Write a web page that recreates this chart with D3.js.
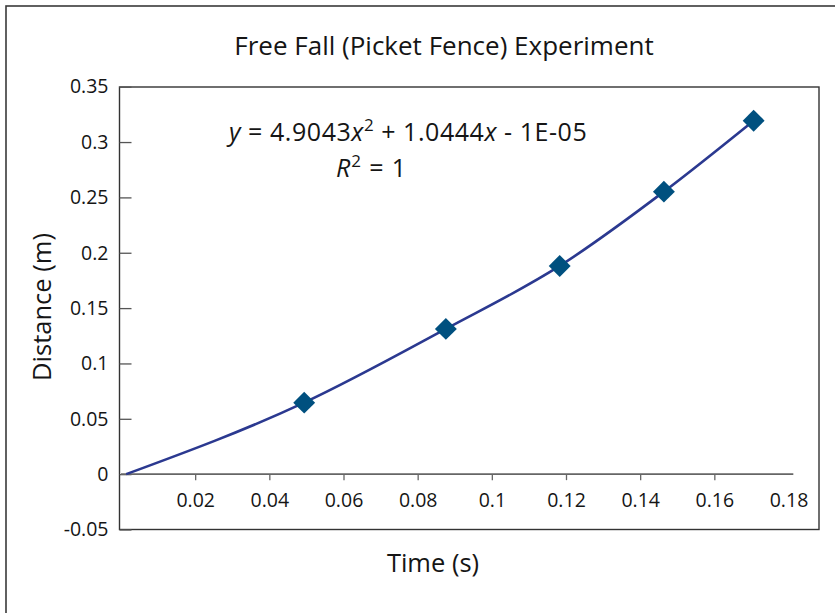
<!DOCTYPE html>
<html>
<head>
<meta charset="utf-8">
<script src="https://cdn.jsdelivr.net/npm/d3@7"></script>
<style>
  html, body { margin: 0; padding: 0; background: #fff; }
  svg { display: block; }
  text { font-family: "Open Sans", "Noto Sans", sans-serif; fill: #151515; }
</style>
</head>
<body>
<div id="chart"></div>
<script>
// ---- data ----
const timeS = [0.0494, 0.0876, 0.1183, 0.1464, 0.1706];
const distanceM = [0.0646, 0.1312, 0.1881, 0.2552, 0.3193];
const lineStart = [0.0014, 0];           // where the fitted curve begins
const xTickValues = [0.02, 0.04, 0.06, 0.08, 0.10, 0.12, 0.14, 0.16, 0.18];
const yTickValues = [-0.05, 0, 0.05, 0.10, 0.15, 0.20, 0.25, 0.30, 0.35];
const chartTitle = "Free Fall (Picket Fence) Experiment";
const xTitle = "Time (s)";
const yTitle = "Distance (m)";

const W = 835, H = 613;
const svg = d3.select("#chart").append("svg").attr("width", W).attr("height", H);
const fmt = d => String(+d.toFixed(2));   // plain hyphen minus

// outer border
svg.append("rect").attr("x", 6).attr("y", 6).attr("width", W + 10).attr("height", H + 10)
  .attr("fill", "none").attr("stroke", "#3a3a3a").attr("stroke-width", 1.6);

const frame = { left: 119.5, top: 87, right: 819, bottom: 529.5 };
const x = d3.scaleLinear().domain([0, 0.18]).range([121, 788.5]);
const y = d3.scaleLinear().domain([-0.05, 0.35]).range([529.5, 86.7]);

// plot frame
svg.append("rect").attr("x", frame.left).attr("y", frame.top)
  .attr("width", frame.right - frame.left).attr("height", frame.bottom - frame.top)
  .attr("fill", "none").attr("stroke", "#333").attr("stroke-width", 1.4);

// y axis (ticks inward)
const yAxis = d3.axisLeft(y).tickValues(yTickValues).tickSize(-12).tickPadding(11).tickFormat(fmt);
const gy = svg.append("g").attr("transform", `translate(${frame.left},0)`).call(yAxis);
gy.select(".domain").remove();
gy.selectAll(".tick line").attr("stroke", "#555").attr("stroke-width", 1.3);
gy.selectAll(".tick text").attr("font-size", 19.5).attr("fill", "#151515")
  .style("font-family", "'Open Sans', 'Noto Sans', sans-serif");

// x axis at y = 0
const xAxis = d3.axisBottom(x).tickValues(xTickValues).tickSize(6).tickPadding(13).tickFormat(fmt);
const gx = svg.append("g").attr("transform", `translate(0,${y(0)})`).call(xAxis);
gx.select(".domain").remove();
gx.append("line").attr("x1", x(0)).attr("x2", x(0.1813)).attr("y1", 0).attr("y2", 0)
  .attr("stroke", "#666").attr("stroke-width", 1.6);
gx.selectAll(".tick line").attr("stroke", "#666").attr("stroke-width", 1.3)
  .attr("display", d => d >= 0.18 ? "none" : null);
gx.selectAll(".tick text").attr("font-size", 19.5).attr("fill", "#151515")
  .style("font-family", "'Open Sans', 'Noto Sans', sans-serif");

// curve
const pts = [lineStart].concat(timeS.map((t, i) => [t, distanceM[i]]));
svg.append("path").datum(pts)
  .attr("fill", "none").attr("stroke", "#2b3990").attr("stroke-width", 2.6)
  .attr("d", d3.line().x(d => x(d[0])).y(d => y(d[1])).curve(d3.curveMonotoneX));

// markers
svg.append("g").selectAll("path").data(timeS.map((t, i) => [t, distanceM[i]])).join("path")
  .attr("d", d3.symbol().type(d3.symbolSquare).size(240))
  .attr("transform", d => `translate(${x(d[0])},${y(d[1])}) rotate(45)`)
  .attr("fill", "#00507f");

// titles
svg.append("text").attr("x", 444).attr("y", 55).attr("text-anchor", "middle")
  .attr("font-size", 26).text(chartTitle);
svg.append("text").attr("x", 433).attr("y", 572).attr("text-anchor", "middle")
  .attr("font-size", 25.5).text(xTitle);
svg.append("text").attr("transform", "translate(51,307) rotate(-90)").attr("text-anchor", "middle")
  .attr("font-size", 25.5).text(yTitle);

// equation annotation
const eq = svg.append("text").attr("x", 229).attr("y", 141).attr("font-size", 25)
  .attr("letter-spacing", 0.55);
eq.append("tspan").attr("font-style", "italic").text("y");
eq.append("tspan").text(" = 4.9043");
eq.append("tspan").attr("font-style", "italic").text("x");
eq.append("tspan").attr("font-size", 17).attr("dy", -10).text("2");
eq.append("tspan").attr("dy", 10).text(" + 1.0444");
eq.append("tspan").attr("font-style", "italic").text("x");
eq.append("tspan").text(" - 1E-05");

const r2 = svg.append("text").attr("x", 336).attr("y", 177).attr("font-size", 25)
  .attr("letter-spacing", 0.9);
r2.append("tspan").attr("font-style", "italic").text("R");
r2.append("tspan").attr("font-size", 17).attr("dy", -10).text("2");
r2.append("tspan").attr("dy", 10).text(" = 1");
</script>
</body>
</html>
